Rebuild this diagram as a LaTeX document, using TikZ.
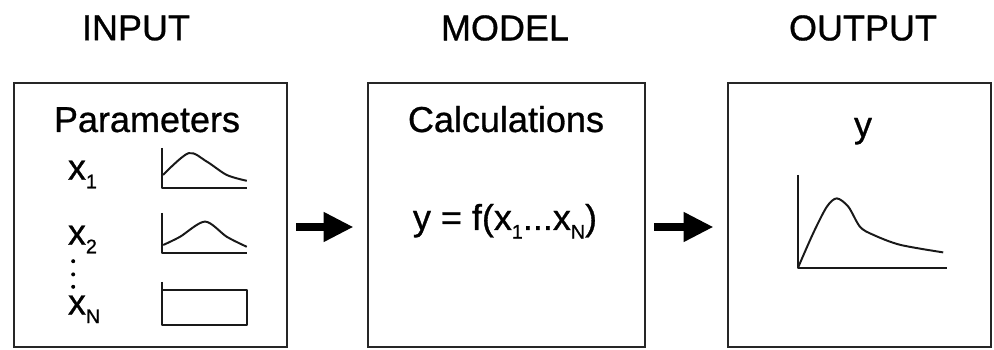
\documentclass[tikz,border=0pt]{standalone}
\usepackage{fontspec}
\setmainfont{Liberation Sans}
\newfontfamily\scanfont{Liberation Sans}[FakeBold=0.8]
\usetikzlibrary{arrows.meta}
\newcommand\bigsf{\scanfont\fontsize{25.6}{30}\selectfont}
\newcommand\pidx[1]{\raisebox{-0.45ex}{\fontsize{14}{14}\selectfont #1}}
\begin{document}
\begin{tikzpicture}[
    stage/.style={draw=black!85,line width=1.8pt,minimum height=6.6cm,inner sep=0pt},
    title/.style={font=\bigsf},
    label/.style={font=\bigsf},
    curve/.style={black!90,line width=1.4pt,line join=round},
    flow/.style={-{Triangle[length=0.75cm,width=0.7cm]},line width=0.2cm,shorten <=0.2cm,shorten >=0.33cm},
  ]
    \useasboundingbox (0,0) rectangle (24.85,8.75);
    % the three stages, side by side
    \node[stage,minimum width=6.825cm] (inbox) at (3.7625,3.375) {};
    \node[stage,minimum width=6.925cm] (modelbox) at (12.6625,3.375) {};
    \node[stage,minimum width=6.575cm] (outbox) at (21.4875,3.375) {};
    \node[title] (intitle) at (3.4,8.05) {INPUT};
    \node[title] (modeltitle) at (12.625,8.05) {MODEL};
    \node[title] (outtitle) at (21.575,8.05) {OUTPUT};
    % input: one distribution per parameter
    \node[label,anchor=base] (params) at (3.675,5.45) {Parameters};
    \node[label,anchor=mid west] (xone) at (1.575,4.35) {x\pidx{1}};
    \node[label,anchor=mid west] (xtwo) at (1.575,2.725) {x\pidx{2}};
    \node[label,anchor=mid west] (xn) at (1.575,0.98) {x\pidx{N}};
    \foreach \y in {2.22,1.89,1.58}
      \fill (1.83,\y) circle[radius=0.05];
    \draw[curve] (4.05,5.05) -- (4.05,4.05) -- (6.175,4.05);
    \draw[curve] plot[smooth] coordinates {(4.075,4.375) (4.71,4.92) (5.17,4.71) (5.67,4.375) (6.17,4.23)};
    \draw[curve] (4.05,3.425) -- (4.05,2.425) -- (6.175,2.425);
    \draw[curve] plot[smooth] coordinates {(4.08,2.625) (4.5,2.83) (5.125,3.21) (5.67,2.83) (6.17,2.58)};
    \draw[curve] (4.05,1.7) -- (4.05,0.625) -- (6.175,0.625) -- (6.175,1.5) -- (4.05,1.5);
    % model
    \node[label,anchor=base] (calc) at (12.65,5.45) {Calculations};
    \node[label,anchor=base] (formula) at (12.625,3.0) {y = f(x\pidx{1}...x\pidx{N})};
    % output
    \node[label,anchor=base] (yout) at (21.575,5.325) {y};
    \draw[curve] (19.95,4.375) -- (19.95,2.05) -- (23.675,2.05);
    \draw[curve] plot[smooth] coordinates {(19.96,2.08) (20.33,2.92) (20.67,3.58) (20.92,3.79) (21.21,3.58) (21.5,3.08) (21.83,2.88) (22.5,2.63) (23.58,2.44)};
    % arrows between the stages
    \draw[flow] ([yshift=-0.3cm]inbox.east) -- ([yshift=-0.3cm]modelbox.west);
    \draw[flow] ([yshift=-0.3cm]modelbox.east) -- ([yshift=-0.3cm]outbox.west);
  \end{tikzpicture}
\end{document}
